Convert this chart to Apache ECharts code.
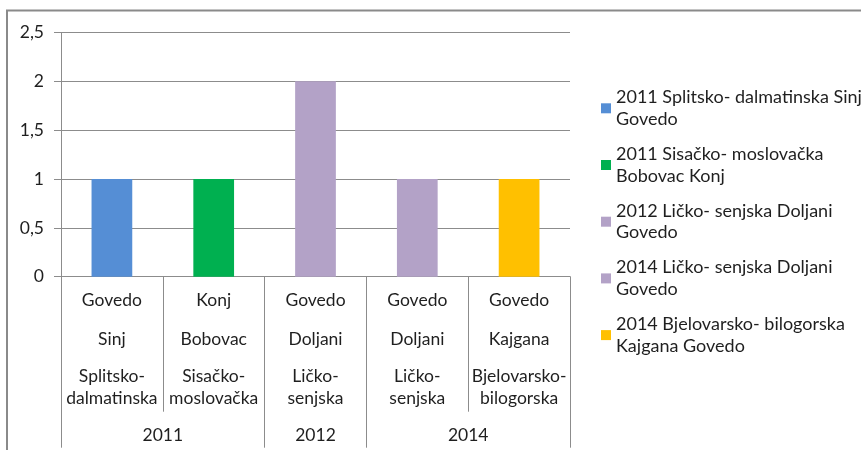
<!DOCTYPE html>
<html>
<head>
<meta charset="utf-8">
<script src="https://cdn.jsdelivr.net/npm/echarts@6/dist/echarts.min.js"></script>
<style>
  html, body { margin: 0; padding: 0; background: #fff; }
  #main { width: 861px; height: 450px; }
</style>
</head>
<body>
<div id="main"></div>
<script>
// podaci
const animals = ['Govedo', 'Konj', 'Govedo', 'Govedo', 'Govedo'];
const places = ['Sinj', 'Bobovac', 'Doljani', 'Doljani', 'Kajgana'];
const counties = ['Splitsko-\ndalmatinska', 'Sisačko-\nmoslovačka', 'Ličko-\nsenjska', 'Ličko-\nsenjska', 'Bjelovarsko-\nbilogorska'];
const years = ['2011', '2012', '2014'];
const yearSpans = [2, 1, 2];
const legendLabels = [
    '2011 Splitsko- dalmatinska Sinj\nGovedo',
    '2011 Sisačko- moslovačka\nBobovac Konj',
    '2012 Ličko- senjska Doljani\nGovedo',
    '2014 Ličko- senjska Doljani\nGovedo',
    '2014 Bjelovarsko- bilogorska\nKajgana Govedo'
];
const values = [1, 1, 2, 1, 1];
const colors = ['#558ED5', '#00B050', '#B3A2C7', '#B3A2C7', '#FFC000'];
const yTicks = [0, 0.5, 1, 1.5, 2, 2.5];

const seriesNames = legendLabels.map(s => s.replace('\n', ' '));

// granice i sredine godina (u jedinicama kategorija)
const yearBounds = [0];
const yearMids = [];
yearSpans.forEach((n, i) => {
    const start = yearBounds[yearBounds.length - 1];
    yearMids.push(start + n / 2);
    yearBounds.push(start + n);
});

const FONT = 'Lato';
const TXT = '#1f1f1f';
const GRAY = '#8c8c8c';
const AX_FS = 17.5;

const chart = echarts.init(document.getElementById('main'), null, { renderer: 'canvas' });

function rowAxis(data, margin) {
    return {
        type: 'category',
        data: data,
        position: 'bottom',
        gridIndex: 0,
        axisLine: { show: false },
        axisTick: { show: false },
        splitLine: { show: false },
        axisLabel: {
            interval: 0,
            margin: margin,
            fontFamily: FONT,
            fontSize: AX_FS,
            lineHeight: 21.6,
            color: TXT
        }
    };
}

const series = seriesNames.map((name, i) => ({
    name: name,
    type: 'bar',
    stack: 'all',
    barWidth: '40%',
    xAxisIndex: 0,
    itemStyle: { color: colors[i] },
    data: values.map((v, j) => (j === i ? v : null))
}));

const option = {
    animation: false,
    graphic: [{
        type: 'rect',
        shape: { x: 7, y: 10.5, width: 900, height: 500 },
        style: { fill: 'none', stroke: '#8a8a8a', lineWidth: 2 },
        silent: true
    }],
    grid: { left: 61, top: 32.5, width: 509, height: 244.2 },
    legend: {
        orient: 'vertical',
        left: 601,
        top: 75.75,
        padding: 0,
        itemWidth: 10,
        itemHeight: 10,
        itemGap: -8.4,
        icon: 'rect',
        data: seriesNames,
        formatter: name => legendLabels[seriesNames.indexOf(name)],
        textStyle: {
            fontFamily: FONT,
            fontSize: 18,
            lineHeight: 21.7,
            color: TXT,
            padding: [21.7, 0, 0, 0]
        }
    },
    xAxis: [
        {
            type: 'category',
            data: animals,
            position: 'bottom',
            gridIndex: 0,
            axisLine: { show: true, lineStyle: { color: GRAY, width: 1 } },
            axisTick: { show: true, interval: 0, length: 135, lineStyle: { color: GRAY } },
            axisLabel: {
                interval: 0,
                margin: 13.2,
                fontFamily: FONT,
                fontSize: AX_FS,
                lineHeight: 21.6,
                color: TXT
            }
        },
        rowAxis(places, 51.5),
        rowAxis(counties, 89.2),
        {
            type: 'value',
            position: 'bottom',
            gridIndex: 0,
            min: 0,
            max: 5,
            axisLine: { show: false },
            splitLine: { show: false },
            axisTick: { show: true, customValues: yearBounds, length: 171, lineStyle: { color: GRAY } },
            axisLabel: {
                customValues: yearMids,
                margin: 148.2,
                fontFamily: FONT,
                fontSize: AX_FS,
                lineHeight: 21.6,
                color: TXT,
                formatter: v => years[yearMids.indexOf(v)]
            }
        }
    ],
    yAxis: {
        type: 'value',
        min: yTicks[0],
        max: yTicks[yTicks.length - 1],
        interval: 0.5,
        axisLine: { show: true, lineStyle: { color: GRAY } },
        axisTick: { show: true, length: 7, lineStyle: { color: GRAY } },
        splitLine: { show: true, lineStyle: { color: GRAY } },
        axisLabel: {
            margin: 17,
            fontFamily: FONT,
            fontSize: AX_FS,
            color: TXT,
            formatter: v => String(v).replace('.', ',')
        }
    },
    series: series
};

chart.setOption(option);
</script>
</body>
</html>
